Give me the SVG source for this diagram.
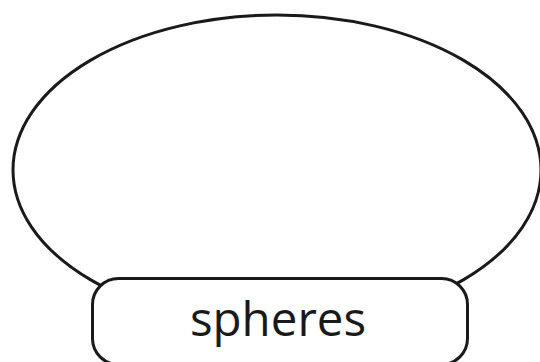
<svg xmlns="http://www.w3.org/2000/svg" width="540" height="362" viewBox="0 0 540 362">
<style>
.shape{fill:#fff;stroke:#1a1a1a;stroke-width:3}
.label{font-family:"Open Sans","Noto Sans",sans-serif;font-size:47.5px;fill:#1a1a1a;text-anchor:middle}
</style>
<rect width="540" height="362" fill="#fff"/>
<g id="ellipse-node">
<ellipse class="shape" cx="277" cy="170" rx="264" ry="155"/>
</g>
<g id="connectors"></g>
<g id="spheres-node">
<rect class="shape" x="92.5" y="278.5" width="375" height="86" rx="26" ry="26"/>
<text class="label" x="278" y="336">spheres</text>
</g>
</svg>
